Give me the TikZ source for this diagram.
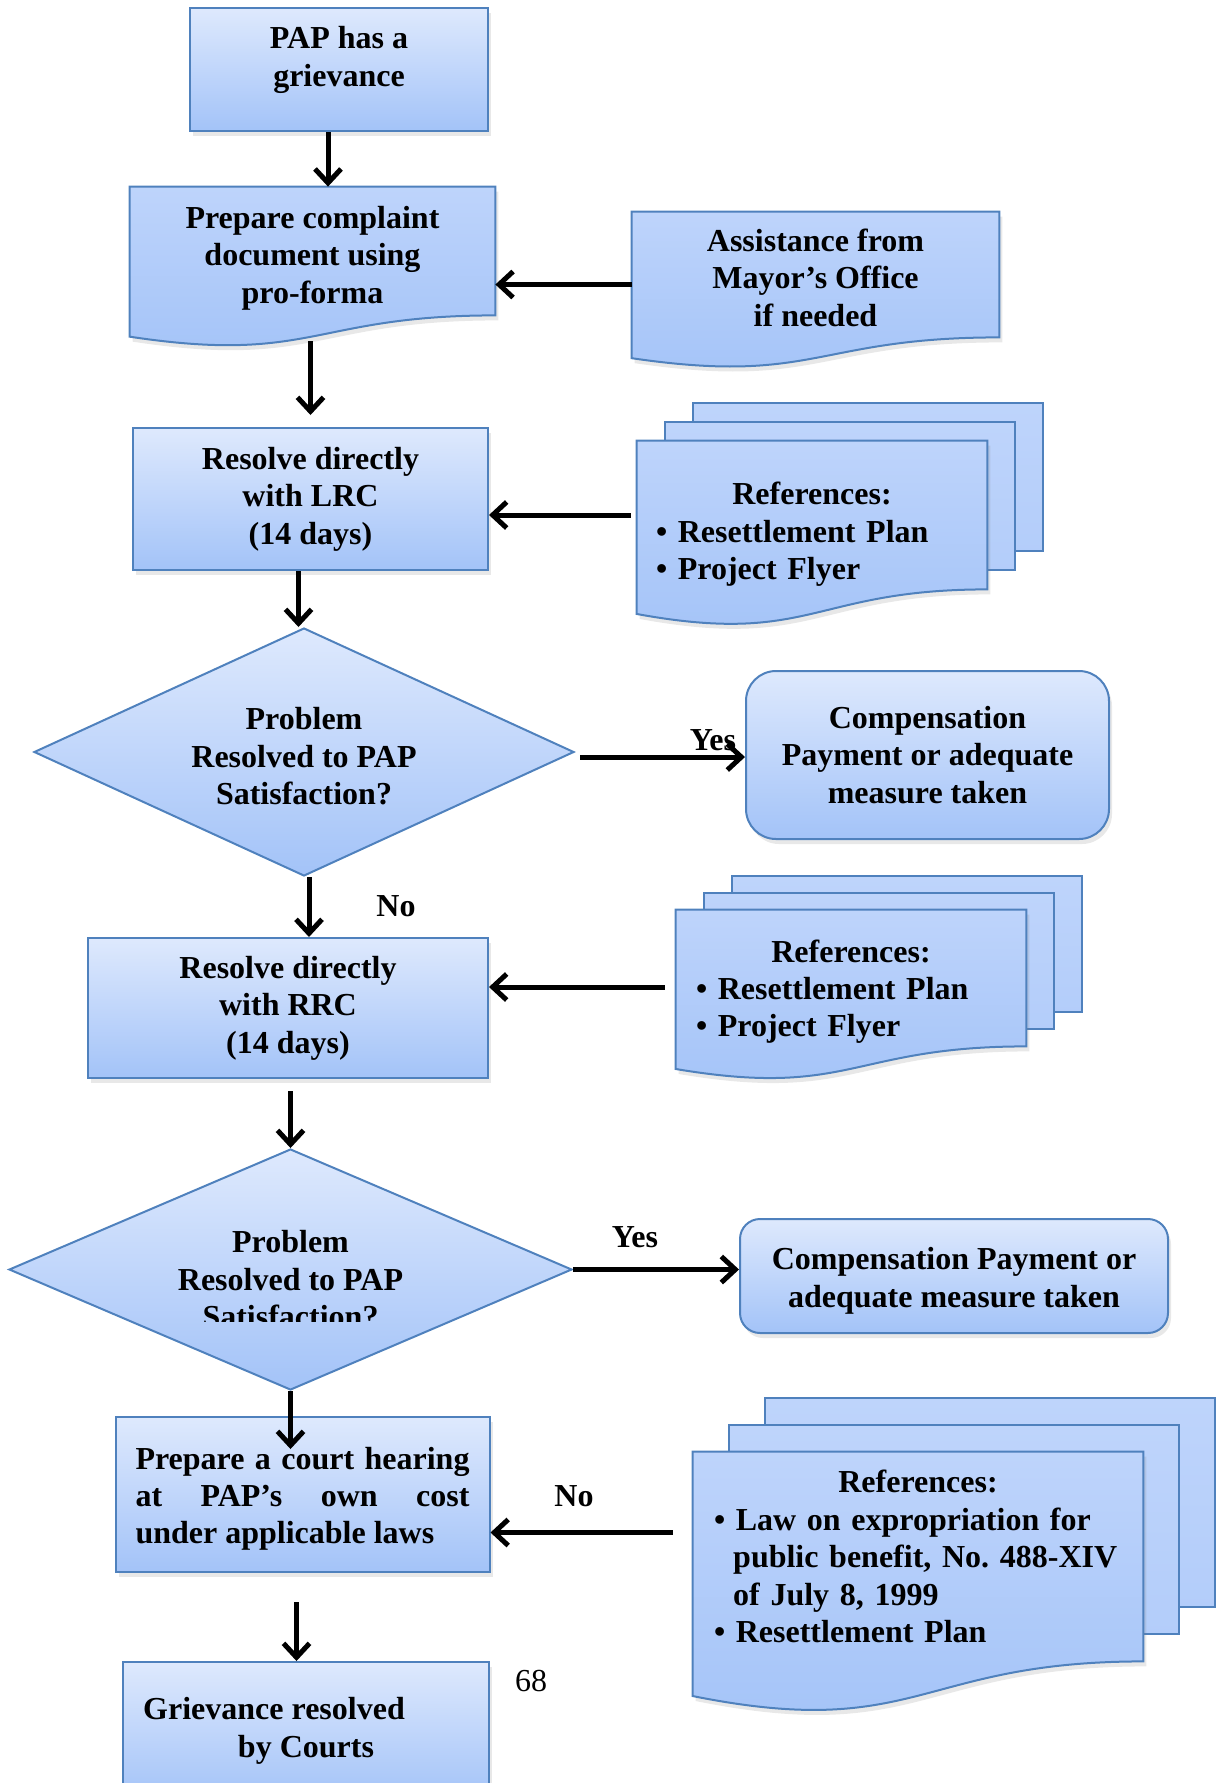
\documentclass[tikz,border=0pt]{standalone}
\usepackage{fontspec}
\setmainfont{Liberation Serif}
\usepackage{tikz}
\usetikzlibrary{arrows.meta, calc, shapes.geometric, shadows}

\definecolor{grline}{RGB}{79,129,189}
\definecolor{grtop}{RGB}{222,233,253}
\definecolor{grmid}{RGB}{190,212,251}
\definecolor{grbot}{RGB}{163,195,248}

\pgfdeclarelayer{background}
\pgfsetlayers{background,main}

\tikzset{
  gr text/.style={
    font=\fontsize{16}{18.7}\selectfont\bfseries, align=center
  },
  gr box/.style={
    rectangle, draw=grline, line width=1pt,
    top color=grtop, bottom color=grbot,
    inner sep=0pt, gr text,
    drop shadow={opacity=0.18, shadow xshift=1.5pt, shadow yshift=-2.5pt}
  },
  gr round/.style={
    gr box, rounded corners=15pt
  },
  gr decision/.style={
    diamond, draw=grline, line width=1pt,
    top color=grtop, bottom color=grbot,
    inner sep=0pt, aspect=2.2, gr text
  },
  gr doc/.style={
    rectangle, inner sep=0pt, gr text
  },
  gr refs/.style={
    align=left
  },
  gr doc shape/.style={
    draw=grline, line width=1pt, top color=grmid, bottom color=grbot,
    drop shadow={opacity=0.18, shadow xshift=1.5pt, shadow yshift=-2.5pt}
  },
  gr page/.style={
    draw=grline, line width=1pt, top color=grmid, bottom color=grmid!60!grbot
  },
  gr arrow/.style={
    -{Straight Barb[length=7pt,width=13pt]}, line width=2.5pt, draw=black
  },
  gr label/.style={
    gr text, inner sep=0pt
  },
  gr page num/.style={
    font=\fontsize{16}{18.7}\selectfont, inner sep=0pt
  }
}

% document outline with a wavy bottom under the node
\newcommand\docshape[1]{%
  \path[gr doc shape] (#1.north west) -- (#1.north east) -- (#1.south east)
    .. controls (#1.south) and ($(#1.south)!-0.381!(#1.north)$)
    .. ($(#1.south west)!-0.165!(#1.north west)$) -- cycle;}
% two pages behind a document
\newcommand\docstack[3]{%
  \path[gr page] ([shift={(2*#2,-2*#3)}]#1.north west) rectangle ([shift={(2*#2,-2*#3)}]#1.south east);
  \path[gr page] ([shift={(#2,-#3)}]#1.north west) rectangle ([shift={(#2,-#3)}]#1.south east);
  \docshape{#1}}
\newcommand\refitem{\par\hangindent=0.6em\hangafter=1 \textbullet\ }
% invisible struts to move a text up or down in its box
\newcommand\toppad[1]{\rule{0pt}{#1}}
\newcommand\botpad[1]{\rule[-#1]{0pt}{#1}}

\begin{document}
\begin{tikzpicture}[x=0.5pt, y=-0.5pt]
  \useasboundingbox (0,0) rectangle (1225,1783);

  \node[gr box, minimum width=149pt, minimum height=61.5pt] (n1) at (339,69.5) {PAP has a\\grievance\botpad{13pt}};
  \node[gr doc, minimum width=182.5pt, minimum height=64pt] (n2) at (312.5,251) {\toppad{18.3pt}Prepare complaint\\document using\\pro-forma};
  \node[gr doc, minimum width=183.5pt, minimum height=62.5pt] (n3) at (815.5,274.5) {\toppad{14.3pt}Assistance from\\Mayor’s Office\\if needed};
  \node[gr box, minimum width=177.5pt, minimum height=71pt] (n4) at (310.5,499) {Resolve directly\\with LRC\\(14 days)};
  \node[gr doc, gr refs, text width=156pt, inner xsep=9.5pt, minimum height=74pt] (r1) at (812,515)
    {{\centering\toppad{30.5pt}References:\par}\refitem Resettlement Plan\refitem Project Flyer};
  \node[gr decision, minimum width=270pt, minimum height=124pt] (q1) at (304,752) {\toppad{15.3pt}Problem\\Resolved to PAP\\Satisfaction?};
  \node[gr round, minimum width=181.5pt, minimum height=84pt] (c1) at (927.5,755) {Compensation\\Payment or adequate\\measure taken};
  \node[gr box, minimum width=200pt, minimum height=70pt] (n5) at (288,1008) {Resolve directly\\with RRC\\(14 days)};
  \node[gr doc, gr refs, text width=155pt, inner xsep=10pt, minimum height=68pt] (r2) at (851,978)
    {{\centering\toppad{25pt}References:\par}\refitem Resettlement Plan\refitem Project Flyer};
  \node[gr decision, aspect=2.3, minimum width=281.5pt, minimum height=120.5pt] (q2) at (290.5,1269.5) {};
  \begin{scope}
    \clip (0,1140) rectangle (600,1321);
    \node[gr label] (q2t) at ([yshift=-5pt]q2.center) {Problem\\Resolved to PAP\\Satisfaction?};
  \end{scope}
  \node[gr round, rounded corners=10pt, minimum width=214pt, minimum height=57pt] (c2) at (954,1276) {\toppad{16pt}Compensation Payment or\\adequate measure taken};
  \node[gr box, text width=167pt, inner xsep=10pt, align=justify, minimum height=77.5pt] (n6) at (302.5,1494.5)
    {\hyphenpenalty=10000 \toppad{15.3pt}Prepare a court hearing\linebreak at PAP’s own cost\linebreak under applicable laws};
  \node[gr doc, gr refs, text width=204pt, inner xsep=10.5pt, minimum height=104.5pt] (r3) at (918,1556.5)
    {{\centering References:\par}\refitem Law on expropriation for\newline public benefit, No.\ 488-XIV\newline of July 8, 1999\refitem Resettlement Plan};
  \node[gr box, minimum width=183pt, minimum height=69pt] (n7) at (306,1731) {Grievance resolved\hspace*{32pt}\\by Courts};

  \begin{pgfonlayer}{background}
    \docshape{n2}
    \docshape{n3}
    \docstack{r1}{28}{19}
    \docstack{r2}{28}{17}
    \docstack{r3}{36}{27}
  \end{pgfonlayer}

  \node[gr label] (l1) at (713,740) {Yes};
  \node[gr label] (l2) at (396,906) {No};
  \node[gr label] (l3) at (635,1237) {Yes};
  \node[gr label] (l4) at (574,1496) {No};
  \node[gr page num] (pg) at (531,1681) {68};

  \draw[gr arrow] ([xshift=-5.5pt]n1.south) -- ([xshift=-5.5pt]n1.south |- n2.north);
  \draw[gr arrow] ([yshift=-5pt]n3.west) -- ([yshift=-5pt]n3.west -| n2.east);
  \draw[gr arrow] ([yshift=-13pt]n2.south -| n4.north) -- ([yshift=6pt]n4.north);
  \draw[gr arrow] ([xshift=-3pt]r1.west) -- (r1.west -| n4.east);
  \draw[gr arrow] ([xshift=-6pt]n4.south) -- ([xshift=-6pt]n4.south |- q1.north);
  \draw[gr arrow] ([shift={(5,5)}]q1.east) -- ([yshift=-2.5pt]q1.east -| c1.west);
  \draw[gr arrow] ([xshift=2.5pt]q1.south) -- ([xshift=2.5pt]q1.south |- n5.north);
  \draw[gr arrow] ([shift={(-11,9)}]r2.west) -- ([yshift=-4.5pt]r2.west -| n5.east);
  \draw[gr arrow] ([yshift=-6pt]n5.south -| q2.north) -- (q2.north);
  \draw[gr arrow] (q2.east) -- (q2.east -| c2.west);
  \draw[gr arrow] (q2.south) -- ([yshift=-16.5pt]n6.north -| q2.south);
  \draw[gr arrow] ([shift={(-20,-24)}]r3.west) -- ([yshift=12pt]r3.west -| n6.east);
  \draw[gr arrow] ([shift={(-6,29)}]n6.south) -- ([xshift=-3pt]n6.south |- n7.north);
\end{tikzpicture}
\end{document}
